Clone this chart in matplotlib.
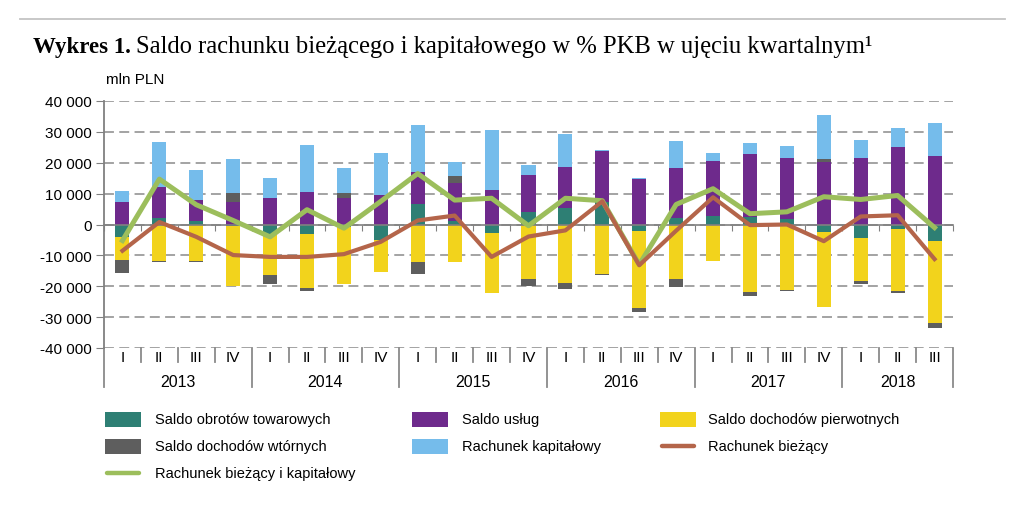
import matplotlib
matplotlib.use("Agg")
import matplotlib.pyplot as plt
import numpy as np
from matplotlib.lines import Line2D
from matplotlib.patches import Rectangle
from matplotlib.ticker import FuncFormatter

plt.rcParams['font.family'] = ['Liberation Sans', 'DejaVu Sans']

# --- dane (mln PLN) ---
years = ["2013", "2014", "2015", "2016", "2017", "2018"]
quarters = ["I", "II", "III", "IV"] * 5 + ["I", "II", "III"]

goods = [-4200, 2100, 1200, -600,
         -3400, -3200, -700, -5000,
         6700, 1000, -2800, 4200,
         5300, 7200, -2000, 2100,
         2900, 2300, 1900, -2500,
         -4500, -1400, -5500]
services = [7400, 10100, 6600, 7400,
            8700, 10500, 8600, 9700,
            10300, 12600, 11300, 11700,
            13400, 16600, 14600, 16300,
            17600, 20400, 19600, 20300,
            21400, 25100, 22200]
primary = [-7300, -11900, -11900, -19400,
           -13000, -17400, -18500, -10400,
           -12100, -12300, -19400, -17800,
           -18800, -15900, -25000, -17800,
           -11900, -21900, -21100, -24200,
           -13900, -20100, -26400]
secondary = [-4300, -200, -400, 2700,
             -3000, -800, 1500, 0,
             -3800, 2000, 0, -2200,
             -2100, -500, -1200, -2600,
             0, -1300, -300, 1000,
             -800, -800, -1600]
capital = [3300, 14400, 10000, 11000,
           6400, 15400, 8300, 13300,
           15200, 4600, 19200, 3300,
           10500, 200, 500, 8700,
           2700, 3800, 4000, 14100,
           6000, 6300, 10700]
current = [-8500, 800, -4000, -9900,
           -10500, -10500, -9600, -5600,
           1300, 2900, -10500, -3900,
           -1900, 7500, -13200, -2000,
           8800, -200, 0, -5400,
           2600, 3000, -11200]
cur_cap = [-5200, 14700, 6400, 1300,
           -4000, 4800, -1200, 7500,
           16500, 7900, 8500, -400,
           8500, 7700, -13000, 6500,
           11600, 3500, 4100, 9000,
           8100, 9400, -1000]

labels = ["Saldo obrotów towarowych", "Saldo usług", "Saldo dochodów pierwotnych",
          "Saldo dochodów wtórnych", "Rachunek kapitałowy", "Rachunek bieżący",
          "Rachunek bieżący i kapitałowy"]
c_goods, c_serv, c_prim, c_sec, c_cap = '#2E7F74', '#6E2A8C', '#F2D31C', '#5E5E5E', '#75BCEB'
c_cur, c_cc = '#B4654A', '#9CBE5C'

W, H = 1024, 510
fig = plt.figure(figsize=(W / 100, H / 100), dpi=100)
fig.patch.set_facecolor('white')

# naglowek
fig.add_artist(Line2D([20 / W, 1005 / W], [1 - 20 / H, 1 - 20 / H], color='#c4c4c4', lw=1.3))
t1 = fig.text(33 / W, 1 - 53 / H, "Wykres 1.", fontfamily='Liberation Serif',
              fontweight='bold', fontsize=16.5, va='baseline')
fig.canvas.draw()
bb = t1.get_window_extent()
fig.text(bb.x1 / W + 5 / W, 1 - 53 / H,
         "Saldo rachunku bieżącego i kapitałowego w % PKB w ujęciu kwartalnym¹",
         fontfamily='Liberation Serif', fontsize=17.7, va='baseline')
fig.text(106 / W, 1 - 80 / H, "mln PLN", fontsize=11, va='center')

ax = fig.add_axes([104 / W, 1 - 349 / H, (953 - 104) / W, (349 - 102) / H])
n = len(quarters)
x = np.arange(n)
pos = np.zeros(n)
neg = np.zeros(n)
for vals, col in [(goods, c_goods), (services, c_serv), (primary, c_prim),
                  (secondary, c_sec), (capital, c_cap)]:
    v = np.array(vals, dtype=float)
    base = np.where(v >= 0, pos, neg)
    ax.bar(x, v, 0.38, bottom=base, color=col, linewidth=0, zorder=3)
    pos += np.where(v > 0, v, 0)
    neg += np.where(v < 0, v, 0)

ax.plot(x, cur_cap, color=c_cc, lw=3.6, zorder=5, solid_joinstyle='round')
ax.plot(x, current, color=c_cur, lw=3.0, zorder=6, solid_joinstyle='round')

ax.set_xlim(-0.5, n - 0.5)
ax.set_ylim(-40000, 40000)
ax.set_yticks(np.arange(-40000, 40001, 10000))
ax.yaxis.set_major_formatter(FuncFormatter(lambda v, p: f"{int(v):,}".replace(",", " ")))
ax.yaxis.grid(True, linestyle=(0, (6.5, 3.5)), color='#8a8a8a', lw=1.1, zorder=0)
ax.tick_params(axis='y', direction='out', length=6, color='#808080', labelsize=11, pad=3)
for s in ['top', 'right']:
    ax.spines[s].set_visible(False)
ax.spines['left'].set_color('#808080')
ax.spines['left'].set_linewidth(1.3)
ax.spines['bottom'].set_position(('data', 0))
ax.spines['bottom'].set_color('#808080')
ax.spines['bottom'].set_linewidth(1.2)
ax.spines['bottom'].set_zorder(4)
ax.set_xticks(np.arange(-0.5, n, 1.0))
ax.set_xticklabels([])
ax.tick_params(axis='x', direction='out', length=4, color='#808080')

# os kategorii (kwartaly i lata)
tr = ax.get_xaxis_transform()
year_bounds = [-0.5, 3.5, 7.5, 11.5, 15.5, 19.5, n - 0.5]
for b in np.arange(-0.5, n, 1.0):
    y_end = -0.158 if b in year_bounds else -0.057
    ax.add_line(Line2D([b, b], [0, y_end], transform=tr, color='#8a8a8a', lw=1.3, clip_on=False))
for i, q in enumerate(quarters):
    ax.text(i, -0.036, q, transform=tr, ha='center', va='center', fontsize=11)
for k, yr in enumerate(years):
    mid = (year_bounds[k] + year_bounds[k + 1]) / 2
    ax.text(mid, -0.134, yr, transform=tr, ha='center', va='center', fontsize=11.5)

# legenda
cols_patch = [105, 412, 660]
cols_text = [155, 462, 708]
rows = [420, 447, 474]
entries = [(c_goods, 'p'), (c_serv, 'p'), (c_prim, 'p'),
           (c_sec, 'p'), (c_cap, 'p'), (c_cur, 'l'), (c_cc, 'l')]
for i, ((col, kind), lab) in enumerate(zip(entries, labels)):
    r, c = divmod(i, 3)
    x0, yc = cols_patch[c], rows[r]
    if kind == 'p':
        fig.add_artist(Rectangle((x0 / W, 1 - (yc + 7.5) / H), 36 / W, 15 / H,
                                 color=col, transform=fig.transFigure, lw=0))
    else:
        fig.add_artist(Line2D([(x0 + 2) / W, (x0 + 34) / W], [1 - yc / H, 1 - yc / H],
                              color=col, lw=3.2, solid_capstyle='round'))
    fig.text(cols_text[c] / W, 1 - yc / H, lab, fontsize=10.5, va='center')

fig.savefig("out.png", dpi=100, facecolor='white')
